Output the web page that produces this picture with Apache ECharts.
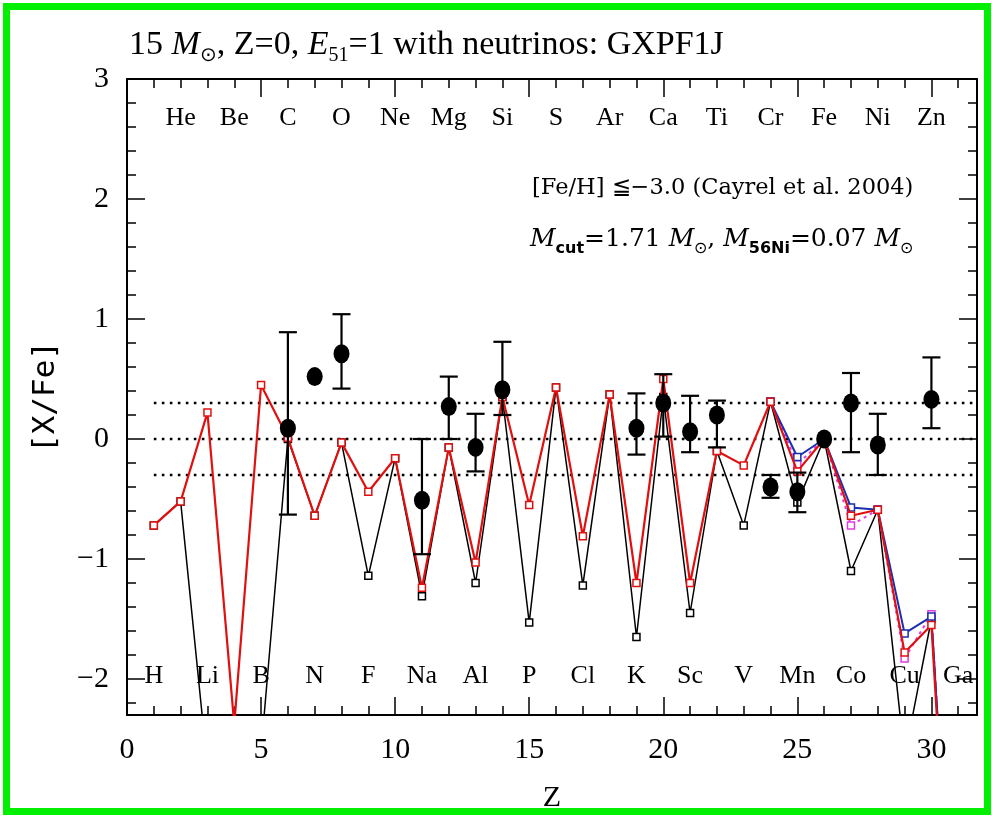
<!DOCTYPE html>
<html><head><meta charset="utf-8">
<script src="https://cdn.jsdelivr.net/npm/echarts@6/dist/echarts.min.js"></script>
<style>html,body{margin:0;padding:0;background:#fff;}#c{width:992px;height:818px;}</style>
</head><body><div id="c"></div>
<script>
// ---------------- data ----------------
const zValues = [1,2,3,4,5,6,7,8,9,10,11,12,13,14,15,16,17,18,19,20,21,22,23,24,25,26,27,28,29,30,31];
const elements = ['H','He','Li','Be','B','C','N','O','F','Ne','Na','Mg','Al','Si','P','S','Cl','Ar','K','Ca','Sc','Ti','V','Cr','Mn','Fe','Co','Ni','Cu','Zn','Ga'];
// model without neutrino process (black)
const modelBlack = [-0.72,-0.52,-2.74,-5.0,-2.6,0.0,-0.64,-0.03,-1.14,-0.16,-1.31,-0.07,-1.20,0.35,-1.53,0.43,-1.22,0.37,-1.65,0.35,-1.45,-0.10,-0.72,0.31,-0.53,0.0,-1.10,-0.59,-2.65,-1.50,-5.0];
// model with neutrinos (red)
const modelRed = [-0.72,-0.52,0.22,-2.38,0.45,0.01,-0.64,-0.03,-0.44,-0.16,-1.24,-0.07,-1.03,0.35,-0.55,0.43,-0.81,0.37,-1.20,0.50,-1.20,-0.10,-0.22,0.31,-0.27,0.0,-0.64,-0.59,-1.78,-1.55,-5.3];
// variants (blue, magenta) Z = 24..31
const variantZ = [24,25,26,27,28,29,30,31];
const modelBlue = [0.31,-0.15,0.0,-0.57,-0.59,-1.62,-1.48,-5.2];
const modelMagenta = [0.31,-0.21,0.0,-0.72,-0.59,-1.83,-1.46,-5.2];
// observations, Cayrel et al. 2004
const obsZ = [6,7,8,11,12,13,14,19,20,21,22,24,25,26,27,28,30];
const obsVal = [0.09,0.52,0.71,-0.51,0.27,-0.07,0.41,0.09,0.30,0.06,0.20,-0.40,-0.44,0.0,0.30,-0.05,0.33];
const obsLow = [-0.63,null,0.42,-0.96,0.0,-0.27,0.20,-0.13,0.02,-0.11,-0.07,-0.49,-0.61,null,-0.11,-0.30,0.09];
const obsHigh = [0.89,null,1.04,0.0,0.52,0.21,0.81,0.38,0.54,0.36,0.32,-0.30,-0.28,null,0.55,0.21,0.68];
// reference levels
const refLevels = [0.3, 0.0, -0.3];
const refStartZ = 1;
// axes
const xMin = 0, xMax = 31.7, yMin = -2.3, yMax = 3;
const xMajorTicks = [0,5,10,15,20,25,30];
const xMinorTicks = [0,1,2,3,4,5,6,7,8,9,10,11,12,13,14,15,16,17,18,19,20,21,22,23,24,25,26,27,28,29,30,31];
const yMajorTicks = [-2,-1,0,1,2,3];
const yMinorTicks = [-2.2,-2,-1.8,-1.6,-1.4,-1.2,-1,-0.8,-0.6,-0.4,-0.2,0,0.2,0.4,0.6,0.8,1,1.2,1.4,1.6,1.8,2,2.2,2.4,2.6,2.8,3];
const elemLabelTopY = 2.67, elemLabelBottomY = -1.98;

// ---------------- chart ----------------
const SERIF = 'Liberation Serif';
const chart = echarts.init(document.getElementById('c'), null, {renderer:'canvas'});

function xAxisDef(pos, ticks, len, labels) {
  return {
    type:'value', min:xMin, max:xMax, position:pos,
    axisLine:{show:true, onZero:false, lineStyle:{color:'#000', width:2}},
    axisTick:{show:true, inside:true, length:len, customValues:ticks, lineStyle:{color:'#000', width:1.5}},
    axisLabel: labels ? {show:true, customValues:xMajorTicks, fontFamily:SERIF, fontSize:30, color:'#000', margin:20} : {show:false},
    splitLine:{show:false}, minorTick:{show:false},
    name: labels ? 'Z' : '', nameLocation:'middle', nameGap:68,
    nameTextStyle:{fontFamily:SERIF, fontSize:30, color:'#000'}
  };
}
function yAxisDef(pos, ticks, len, labels) {
  return {
    type:'value', min:yMin, max:yMax, position:pos,
    axisLine:{show:true, onZero:false, lineStyle:{color:'#000', width:2}},
    axisTick:{show:true, inside:true, length:len, customValues:ticks, lineStyle:{color:'#000', width:1.5}},
    axisLabel: labels ? {show:true, customValues:yMajorTicks, fontFamily:SERIF, fontSize:30, color:'#000', margin:18,
      formatter:v => v < 0 ? '\u2212' + Math.abs(v) : String(v)} : {show:false},
    splitLine:{show:false}, minorTick:{show:false},
    name: labels ? '[X/Fe]' : '', nameLocation:'middle', nameGap:66, nameRotate:90,
    nameTextStyle:{fontFamily:'DejaVu Sans Mono', fontSize:31, color:'#000'}
  };
}

const series = [];
// reference dotted lines
refLevels.forEach(v => {
  series.push({type:'line', xAxisIndex:0, yAxisIndex:0, data:[[refStartZ, v],[xMax, v]], symbol:'none', silent:true,
    lineStyle:{color:'#000', width:2.6, type:[2.6,5.4]}, z:2});
});
const sq = (c, fill) => ({color:fill, borderColor:c, borderWidth:1.5, opacity:1});
series.push({type:'line', name:'no-nu', data:zValues.map((z,i)=>[z, modelBlack[i]]), symbol:'rect', symbolSize:7,
  itemStyle:sq('#000','#fff'), lineStyle:{color:'#000', width:1.5}, z:3});
series.push({type:'line', name:'var2', data:variantZ.map((z,i)=>[z, modelMagenta[i]]), symbol:'rect', symbolSize:7,
  itemStyle:sq('#e03ce0','#fff'), lineStyle:{color:'#e03ce0', width:2, type:[3,4]}, z:4});
series.push({type:'line', name:'var1', data:variantZ.map((z,i)=>[z, modelBlue[i]]), symbol:'rect', symbolSize:7,
  itemStyle:sq('#1a2fb0','#fff'), lineStyle:{color:'#1a2fb0', width:2}, z:5});
series.push({type:'line', name:'nu', data:zValues.map((z,i)=>[z, modelRed[i]]), symbol:'rect', symbolSize:7,
  itemStyle:sq('#e01010','#fff'), lineStyle:{color:'#e01010', width:2.2}, z:6});
// error bars
const errData = [];
obsZ.forEach((z,i) => { if (obsLow[i] !== null) errData.push([z, obsLow[i], obsHigh[i]]); });
series.push({type:'custom', data:errData, z:7, silent:true,
  renderItem:(params, api) => {
    const x = api.value(0);
    const pLo = api.coord([x, api.value(1)]);
    const pHi = api.coord([x, api.value(2)]);
    const w = 9, st = {stroke:'#000', lineWidth:2.2};
    return {type:'group', children:[
      {type:'line', shape:{x1:pLo[0], y1:pLo[1], x2:pHi[0], y2:pHi[1]}, style:st},
      {type:'line', shape:{x1:pLo[0]-w, y1:pLo[1], x2:pLo[0]+w, y2:pLo[1]}, style:st},
      {type:'line', shape:{x1:pHi[0]-w, y1:pHi[1], x2:pHi[0]+w, y2:pHi[1]}, style:st}
    ]};
  }});
series.push({type:'scatter', data:obsZ.map((z,i)=>[z, obsVal[i]]), symbol:'circle', symbolSize:[16,19],
  itemStyle:{color:'#000', opacity:1}, z:8});
// element labels
series.push({type:'custom', silent:true, z:9,
  data:zValues.map(z => [z, (z % 2 === 0) ? elemLabelTopY : elemLabelBottomY]),
  renderItem:(params, api) => {
    const p = api.coord([api.value(0), api.value(1)]);
    return {type:'text', x:p[0], y:p[1], style:{text:elements[params.dataIndex], fontFamily:SERIF, fontSize:26,
      fill:'#000', align:'center', verticalAlign:'middle'}};
  }});

const subStyle = (fs, lh) => ({fontFamily:SERIF, fontSize:fs, lineHeight:lh, verticalAlign:'bottom', color:'#000'});
const option = {
  backgroundColor:'#fff',
  animation:false,
  grid:{left:127, right:15, top:79, bottom:97, containLabel:false},
  xAxis:[xAxisDef('bottom', xMinorTicks, 9, false), xAxisDef('bottom', xMajorTicks, 18, true),
         xAxisDef('top', xMinorTicks, 9, false), xAxisDef('top', xMajorTicks, 18, false)],
  yAxis:[yAxisDef('left', yMinorTicks, 9, false), yAxisDef('left', yMajorTicks, 18, true),
         yAxisDef('right', yMinorTicks, 9, false), yAxisDef('right', yMajorTicks, 18, false)],
  series:series,
  graphic:[
    {type:'rect', shape:{x:6.5, y:6.5, width:981, height:805}, style:{fill:'none', stroke:'#00f000', lineWidth:7}, silent:true, z:100},
    {type:'text', left:129, top:28, style:{
      text:'{n|15 }{i|M}{s|\u2299}{n|, Z=0, }{i|E}{s|51}{n|=1 with neutrinos: GXPF1J}',
      rich:{n:{fontFamily:SERIF, fontSize:34, lineHeight:38, verticalAlign:'top', color:'#000'},
            i:{fontFamily:SERIF, fontStyle:'italic', fontSize:34, lineHeight:38, verticalAlign:'top', color:'#000'},
            s:subStyle(20, 10)}}},
    {type:'text', left:532, top:177, style:{text:'[Fe/H] \u2266\u22123.0 (Cayrel et al. 2004)', fontFamily:'DejaVu Serif', fontSize:22.5, fill:'#000'}},
    {type:'text', left:530, top:227, style:{
      text:'{i|M}{b|cut}{n|=1.71 }{i|M}{s|\u2299}{n|, }{i|M}{b|56Ni}{n|=0.07 }{i|M}{s|\u2299}',
      rich:{n:{fontFamily:'DejaVu Serif', fontSize:25, lineHeight:30, verticalAlign:'top', color:'#000'},
            i:{fontFamily:'DejaVu Serif', fontStyle:'italic', fontSize:25, lineHeight:30, verticalAlign:'top', color:'#000'},
            b:{fontFamily:'DejaVu Sans', fontWeight:'bold', fontSize:16, lineHeight:10, verticalAlign:'bottom', color:'#000'},
            s:subStyle(16, 8)}}}
  ]
};
chart.setOption(option);
</script>
</body></html>
